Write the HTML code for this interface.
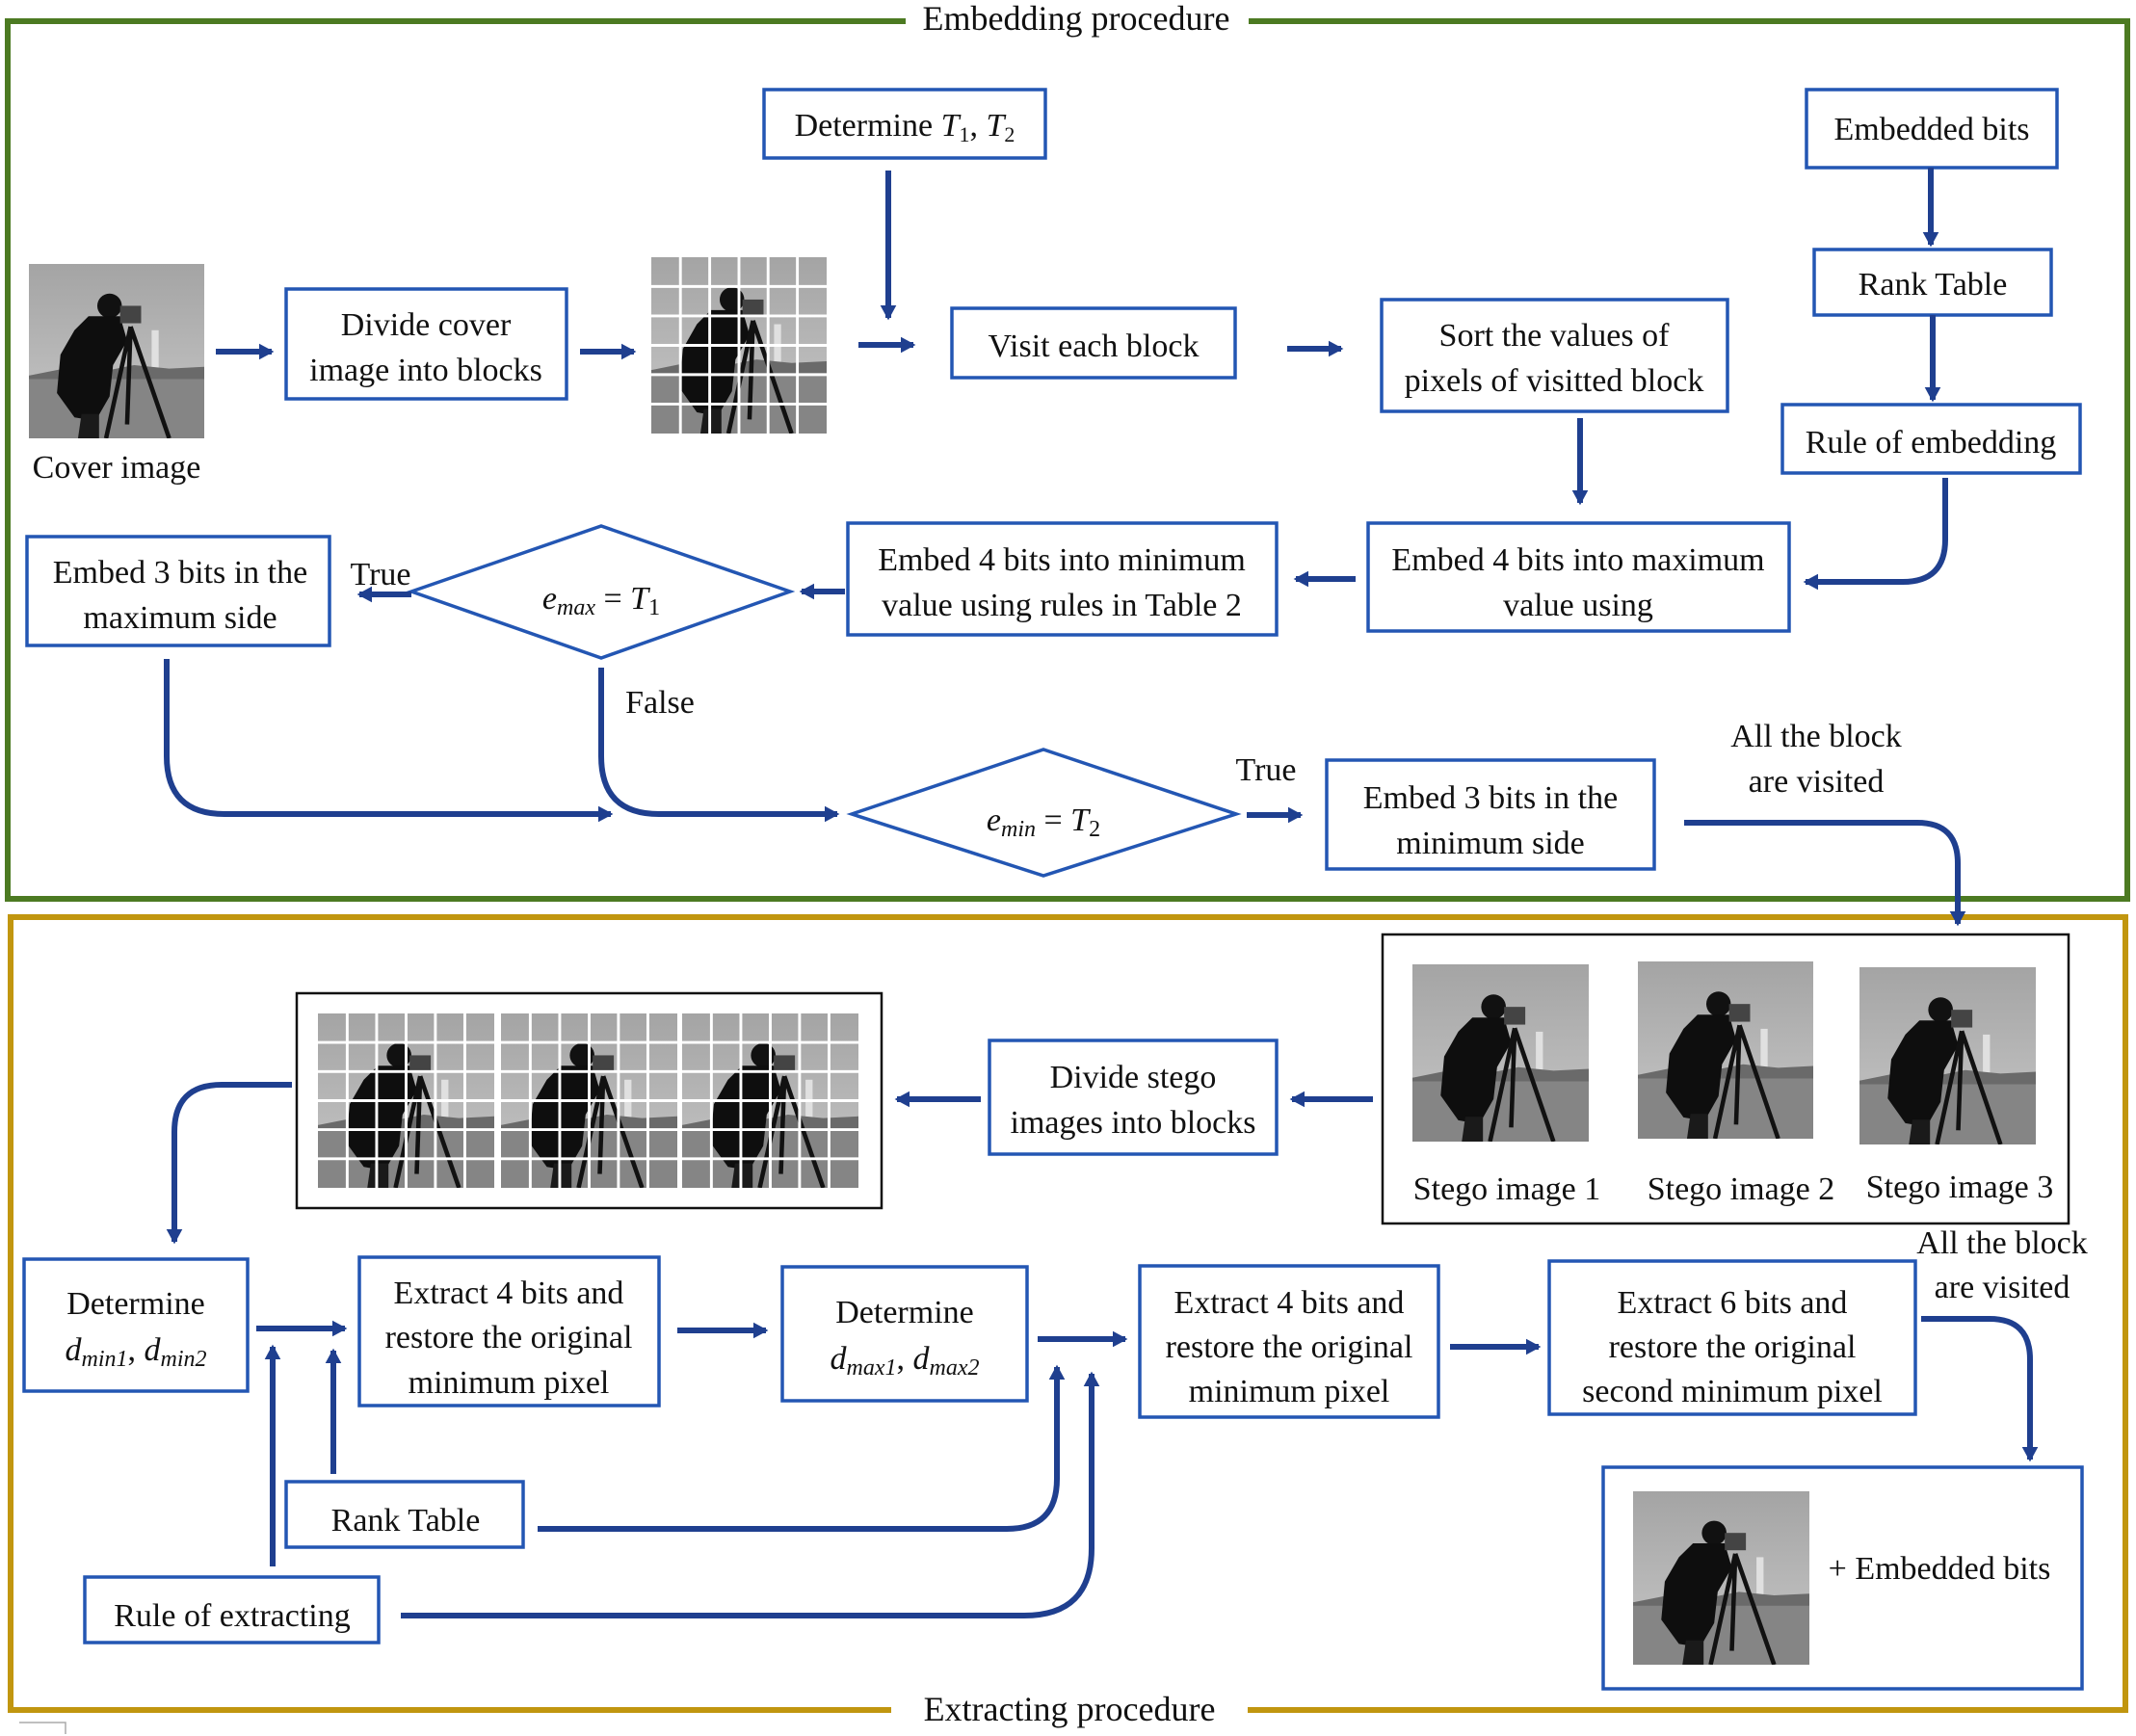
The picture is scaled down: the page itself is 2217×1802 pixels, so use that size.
<!DOCTYPE html>
<html><head><meta charset="utf-8"><style>
html,body{margin:0;padding:0;background:#fff;}
svg{display:block;}
text{font-family:"Liberation Serif",serif;fill:#111;}
</style></head><body>
<svg width="2217" height="1802" viewBox="0 0 2217 1802" xmlns="http://www.w3.org/2000/svg">
<defs>
<marker id="ah" markerWidth="4" markerHeight="4" refX="2.2" refY="2" orient="auto" markerUnits="strokeWidth">
<path d="M0,0.6 L2.6,2 L0,3.4 Z" fill="#1f3f8f"/>
</marker>
<linearGradient id="sky" x1="0" y1="0" x2="0" y2="1"><stop offset="0" stop-color="#a4a4a4"/><stop offset="1" stop-color="#c8c8c8"/></linearGradient>
<symbol id="cam" viewBox="0 0 100 100" preserveAspectRatio="none">
<rect width="100" height="100" fill="url(#sky)"/>
<rect y="64" width="100" height="36" fill="#858585"/>
<rect x="70" y="38" width="4" height="24" fill="#e0e0e0"/>
<path d="M0,64 L20,60 L40,62 L60,58 L80,60 L100,59 L100,66 L0,66Z" fill="#6a6a6a"/>
<circle cx="46" cy="24" r="7" fill="#111"/>
<path d="M34,30 L52,30 L56,44 L48,58 L46,76 L38,90 L26,88 L16,74 L18,52 L26,38Z" fill="#0e0e0e"/>
<path d="M30,86 L28,100 L40,100 L40,86Z" fill="#1a1a1a"/>
<rect x="52" y="24" width="12" height="10" fill="#444"/>
<path d="M58,36 L44,100 M58,36 L80,100 M58,36 L56,92" stroke="#111" stroke-width="2.5" fill="none"/>
</symbol>
<symbol id="grid" viewBox="0 0 100 100" preserveAspectRatio="none">
<use href="#cam" width="100" height="100"/>
<path d="M16.6,0V100M33.3,0V100M50,0V100M66.6,0V100M83.3,0V100M0,16.6H100M0,33.3H100M0,50H100M0,66.6H100M0,83.3H100" stroke="#fff" stroke-width="1.6"/>
</symbol>
</defs>

<rect x="8" y="22" width="2200" height="911" fill="none" stroke="#4c7a22" stroke-width="6"/>
<rect x="940" y="2" width="356" height="40" fill="#fff"/>
<text x="1117" y="31" font-size="36" text-anchor="middle">Embedding procedure</text>
<rect x="11" y="952" width="2195" height="823" fill="none" stroke="#c1960f" stroke-width="6"/>
<rect x="925" y="1756" width="370" height="40" fill="#fff"/>
<text x="1110" y="1786" font-size="36" text-anchor="middle">Extracting procedure</text>
<path d="M20,1788 H68 V1800" stroke="#aaa" stroke-width="1.5" fill="none"/>

<g fill="#fff" stroke="#2356b3" stroke-width="3.5">
<rect x="793" y="93" width="292" height="71"/>
<rect x="1875" y="93" width="260" height="81"/>
<rect x="297" y="300" width="291" height="114"/>
<rect x="988" y="320" width="294" height="72"/>
<rect x="1434" y="311" width="359" height="116"/>
<rect x="1883" y="259" width="246" height="68"/>
<rect x="1850" y="420" width="309" height="71"/>
<rect x="28" y="557" width="314" height="113"/>
<polygon points="427,614 624,546 820,614 624,683"/>
<rect x="880" y="543" width="445" height="116"/>
<rect x="1420" y="543" width="437" height="112"/>
<polygon points="884,845 1083,778 1283,845 1083,909"/>
<rect x="1377" y="789" width="340" height="113"/>
<rect x="1027" y="1080" width="298" height="118"/>
<rect x="25" y="1307" width="232" height="137"/>
<rect x="373" y="1305" width="311" height="154"/>
<rect x="812" y="1315" width="254" height="139"/>
<rect x="1183" y="1314" width="310" height="157"/>
<rect x="1608" y="1309" width="380" height="159"/>
<rect x="1664" y="1523" width="497" height="230"/>
<rect x="297" y="1538" width="246" height="68"/>
<rect x="88" y="1637" width="305" height="68"/>
</g>
<g fill="#fff" stroke="#111" stroke-width="2.5">
<rect x="1435" y="970" width="712" height="300"/>
<rect x="308" y="1031" width="607" height="223"/>
</g>

<use href="#cam" x="30" y="274" width="182" height="181"/>
<use href="#grid" x="676" y="267" width="182" height="183"/>
<use href="#cam" x="1466" y="1001" width="183" height="184"/>
<use href="#cam" x="1700" y="998" width="182" height="184"/>
<use href="#cam" x="1930" y="1004" width="183" height="184"/>
<use href="#cam" x="1695" y="1548" width="183" height="180"/>
<use href="#grid" x="330" y="1052" width="183" height="181"/>
<use href="#grid" x="520" y="1052" width="183" height="181"/>
<use href="#grid" x="708" y="1052" width="183" height="181"/>

<g stroke="#1f3f8f" stroke-width="6" fill="none" marker-end="url(#ah)">
<path d="M224,365H282"/>
<path d="M602,365H658"/>
<path d="M922,177V330"/>
<path d="M891,358H948"/>
<path d="M1336,362H1392"/>
<path d="M2004,174V254"/>
<path d="M2006,327V415"/>
<path d="M1640,434V522"/>
<path d="M2019,496V560Q2019,604 1975,604H1874"/>
<path d="M1407,601H1345"/>
<path d="M877,614H832"/>
<path d="M427,617H373"/>
<path d="M173,684V785Q173,845 233,845H634"/>
<path d="M624,693V785Q624,845 684,845H869"/>
<path d="M1294,846H1350"/>
<path d="M1748,854H1990Q2032,854 2032,896V959"/>
<path d="M1425,1141H1341"/>
<path d="M1018,1141H931"/>
<path d="M303,1126H230Q181,1126 181,1175V1289"/>
<path d="M266,1379H358"/>
<path d="M703,1381H795"/>
<path d="M1077,1390H1168"/>
<path d="M1505,1398H1597"/>
<path d="M1994,1369H2065Q2107,1369 2107,1411V1515"/>
<path d="M283,1626V1398"/>
<path d="M346,1530V1402"/>
<path d="M558,1587H1045Q1097,1587 1097,1535V1419"/>
<path d="M416,1677H1063Q1133,1677 1133,1607V1426"/>
</g>

<g font-size="34" text-anchor="middle">
<text x="939" y="141">Determine <tspan font-style="italic">T</tspan><tspan font-size="22" dy="6">1</tspan><tspan dy="-6">, </tspan><tspan font-style="italic">T</tspan><tspan font-size="22" dy="6">2</tspan></text>
<text x="2005" y="145">Embedded bits</text>
<text x="442" y="348">Divide cover</text>
<text x="442" y="395">image into blocks</text>
<text x="121" y="496">Cover image</text>
<text x="1135" y="370">Visit each block</text>
<text x="1613" y="359">Sort the values of</text>
<text x="1613" y="406">pixels of visitted block</text>
<text x="2006" y="306">Rank Table</text>
<text x="2004" y="470">Rule of embedding</text>
<text x="187" y="605">Embed 3 bits in the</text>
<text x="187" y="652">maximum side</text>
<text x="395" y="607">True</text>
<text x="624" y="632"><tspan font-style="italic">e</tspan><tspan font-style="italic" font-size="24" dy="6">max</tspan><tspan dy="-6"> = </tspan><tspan font-style="italic">T</tspan><tspan font-size="24" dy="6">1</tspan></text>
<text x="1102" y="592">Embed 4 bits into minimum</text>
<text x="1102" y="639">value using rules in Table 2</text>
<text x="1638" y="592">Embed 4 bits into maximum</text>
<text x="1638" y="639">value using</text>
<text x="685" y="740">False</text>
<text x="1083" y="862"><tspan font-style="italic">e</tspan><tspan font-style="italic" font-size="24" dy="6">min</tspan><tspan dy="-6"> = </tspan><tspan font-style="italic">T</tspan><tspan font-size="24" dy="6">2</tspan></text>
<text x="1314" y="810">True</text>
<text x="1547" y="839">Embed 3 bits in the</text>
<text x="1547" y="886">minimum side</text>
<text x="1885" y="775">All the block</text>
<text x="1885" y="822">are visited</text>
<text x="1176" y="1129">Divide stego</text>
<text x="1176" y="1176">images into blocks</text>
<text x="1564" y="1245">Stego image 1</text>
<text x="1807" y="1245">Stego image 2</text>
<text x="2034" y="1243">Stego image 3</text>
<text x="141" y="1364">Determine</text>
<text x="141" y="1412"><tspan font-style="italic">d</tspan><tspan font-style="italic" font-size="24" dy="6">min1</tspan><tspan dy="-6">, </tspan><tspan font-style="italic">d</tspan><tspan font-style="italic" font-size="24" dy="6">min2</tspan></text>
<text x="528" y="1353">Extract 4 bits and</text>
<text x="528" y="1399">restore the original</text>
<text x="528" y="1446">minimum pixel</text>
<text x="939" y="1373">Determine</text>
<text x="939" y="1421"><tspan font-style="italic">d</tspan><tspan font-style="italic" font-size="24" dy="6">max1</tspan><tspan dy="-6">, </tspan><tspan font-style="italic">d</tspan><tspan font-style="italic" font-size="24" dy="6">max2</tspan></text>
<text x="1338" y="1363">Extract 4 bits and</text>
<text x="1338" y="1409">restore the original</text>
<text x="1338" y="1455">minimum pixel</text>
<text x="1798" y="1363">Extract 6 bits and</text>
<text x="1798" y="1409">restore the original</text>
<text x="1798" y="1455">second minimum pixel</text>
<text x="2078" y="1301">All the block</text>
<text x="2078" y="1347">are visited</text>
<text x="2013" y="1639">+ Embedded bits</text>
<text x="421" y="1589">Rank Table</text>
<text x="241" y="1688">Rule of extracting</text>
</g>
</svg>
</body></html>
